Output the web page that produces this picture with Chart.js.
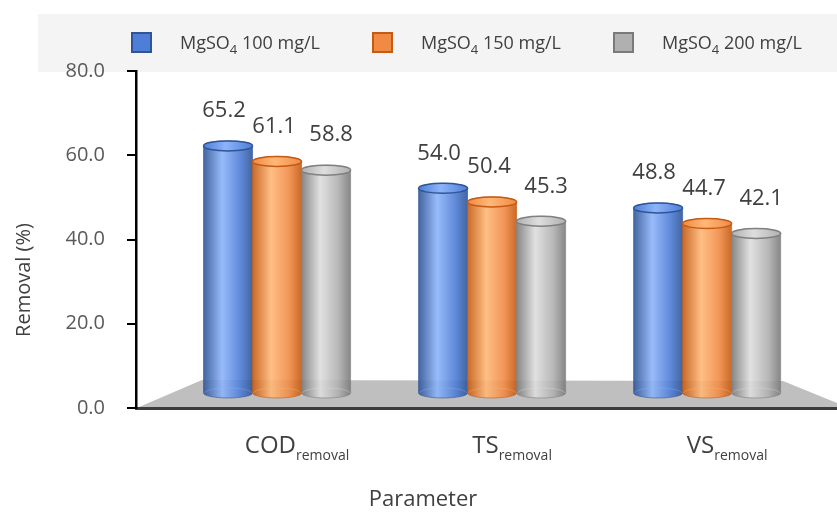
<!DOCTYPE html>
<html>
<head>
<meta charset="utf-8">
<script src="https://cdn.jsdelivr.net/npm/chart.js@4.4.1/dist/chart.umd.min.js"></script>
<style>
  html, body { margin: 0; padding: 0; background: #fff; }
  #wrap { width: 837px; height: 516px; position: relative; }
</style>
</head>
<body>
<div id="wrap"><canvas id="chart" width="837" height="516"></canvas></div>
<script>
const categories  = ["COD", "TS", "VS"];
const categorySub = "removal";
const seriesNames = ["100 mg/L", "150 mg/L", "200 mg/L"];
const mg100 = [65.2, 54.0, 48.8];
const mg150 = [61.1, 50.4, 44.7];
const mg200 = [58.8, 45.3, 42.1];
const yTicks = [0, 20, 40, 60, 80];

const FONT = "'Open Sans', 'Noto Sans', sans-serif";
const TEXT = "#404040";

const palette = [
  { dark: "#2f5597", light: "#8db4fa", mid: "#4f7ed6", line: "#2f5597" },
  { dark: "#c55a11", light: "#ffb878", mid: "#f08a45", line: "#c55a11" },
  { dark: "#7a7a7a", light: "#dedede", mid: "#b0b0b0", line: "#808080" }
];
const labelShift = [-4, -3, 5];

function byId(id) { return document.getElementById(id); }

function toPoints(values) {
  return values.map((v, i) => ({ x: i, y: v }));
}

function drawCylinder(ctx, x, top, base, w, col) {
  const l = x - w / 2, r = x + w / 2, rx = w / 2, ry = 5;
  const g = ctx.createLinearGradient(l, 0, r, 0);
  g.addColorStop(0, col.dark);
  g.addColorStop(0.38, col.light);
  g.addColorStop(0.75, col.mid);
  g.addColorStop(1, col.dark);
  ctx.save();
  ctx.globalAlpha = 0.9;
  ctx.beginPath();
  ctx.moveTo(l, top);
  ctx.lineTo(l, base);
  ctx.ellipse(x, base, rx, ry, 0, Math.PI, 0, true);
  ctx.lineTo(r, top);
  ctx.ellipse(x, top, rx, ry, 0, 0, Math.PI, true);
  ctx.closePath();
  ctx.fillStyle = g;
  ctx.fill();
  ctx.globalAlpha = 0.6;
  ctx.lineWidth = 1;
  ctx.strokeStyle = col.line;
  ctx.stroke();
  // faint back edge of the bottom
  ctx.globalAlpha = 0.35;
  ctx.strokeStyle = col.light;
  ctx.beginPath();
  ctx.ellipse(x, base, rx - 1, ry, 0, 0, Math.PI, true);
  ctx.stroke();
  // top cap
  ctx.globalAlpha = 1;
  const g2 = ctx.createLinearGradient(l, 0, r, 0);
  g2.addColorStop(0, col.mid);
  g2.addColorStop(0.45, col.light);
  g2.addColorStop(1, col.mid);
  ctx.beginPath();
  ctx.ellipse(x, top, rx, ry, 0, 0, Math.PI * 2);
  ctx.fillStyle = g2;
  ctx.fill();
  ctx.lineWidth = 1.5;
  ctx.strokeStyle = col.line;
  ctx.stroke();
  ctx.restore();
}

// text with a lowered, smaller second part
function drawSubText(ctx, x, y, main, sub, after, size, subSize, align) {
  ctx.save();
  ctx.textBaseline = "alphabetic";
  ctx.fillStyle = TEXT;
  ctx.font = `${size}px ${FONT}`;
  const wMain = ctx.measureText(main).width;
  const wAfter = after ? ctx.measureText(after).width : 0;
  ctx.font = `${subSize}px ${FONT}`;
  const wSub = ctx.measureText(sub).width;
  const total = wMain + wSub + wAfter;
  let cx = align === "center" ? x - total / 2 : x;
  ctx.textAlign = "left";
  ctx.font = `${size}px ${FONT}`;
  ctx.fillText(main, cx, y);
  cx += wMain;
  ctx.font = `${subSize}px ${FONT}`;
  ctx.fillText(sub, cx, y + size * 0.28);
  cx += wSub;
  if (after) {
    ctx.font = `${size}px ${FONT}`;
    ctx.fillText(after, cx, y);
  }
  ctx.restore();
}

const cylinderPlugin = {
  id: "cylinders",
  beforeDraw(chart) {
    const { ctx } = chart;
    // legend band
    ctx.save();
    ctx.fillStyle = "#f4f4f4";
    ctx.fillRect(38, 14, 799, 58);
    ctx.restore();
  },
  beforeDatasetsDraw(chart) {
    const { ctx, chartArea: ca } = chart;
    // grey floor of the 3D plot
    ctx.save();
    ctx.fillStyle = "#bfbfbf";
    ctx.beginPath();
    ctx.moveTo(ca.left + 3, ca.bottom - 1);
    ctx.lineTo(ca.left + 66, ca.bottom - 28);
    ctx.lineTo(ca.right - 54, ca.bottom - 27);
    ctx.lineTo(ca.right + 10, ca.bottom - 1);
    ctx.closePath();
    ctx.fill();
    ctx.restore();
  },
  afterDatasetsDraw(chart) {
    const { ctx } = chart;
    chart.data.datasets.forEach((ds, di) => {
      const meta = chart.getDatasetMeta(di);
      meta.data.forEach(el => {
        const { x, y, base, width } = el.getProps(["x", "y", "base", "width"], true);
        drawCylinder(ctx, x, y, base, width, palette[di]);
      });
    });
    ctx.save();
    ctx.font = `22px ${FONT}`;
    ctx.fillStyle = TEXT;
    ctx.textAlign = "center";
    ctx.textBaseline = "middle";
    chart.data.datasets.forEach((ds, di) => {
      const meta = chart.getDatasetMeta(di);
      meta.data.forEach((el, i) => {
        const { x, y } = el.getProps(["x", "y"], true);
        ctx.fillText(ds.data[i].y.toFixed(1), x + labelShift[di], y - 35);
      });
    });
    ctx.restore();
  },
  afterDraw(chart) {
    const { ctx, scales } = chart;
    ctx.save();
    seriesNames.forEach((name, i) => {
      const lx = 131 + i * 241;
      ctx.fillStyle = palette[i].mid;
      ctx.fillRect(lx, 32, 21, 21);
      ctx.lineWidth = 2;
      ctx.strokeStyle = palette[i].dark;
      ctx.strokeRect(lx + 1, 33, 19, 19);
      drawSubText(ctx, lx + 49, 49, "MgSO", "4", " " + name, 18, 13, "left");
    });
    ctx.restore();

    // category labels with subscript
    categories.forEach((c, i) => {
      drawSubText(ctx, scales.x.getPixelForValue(i) + 20, 453, c, categorySub, "", 24, 14, "center");
    });

    ctx.save();
    ctx.fillStyle = TEXT;
    ctx.font = `22px ${FONT}`;
    ctx.textAlign = "center";
    ctx.textBaseline = "middle";
    ctx.fillText("Parameter", 423, 500);
    ctx.translate(24, 280);
    ctx.rotate(-Math.PI / 2);
    ctx.font = `20px ${FONT}`;
    ctx.fillText("Removal (%)", 0, 0);
    ctx.restore();
  }
};

const datasets = [mg100, mg150, mg200].map((vals, i) => ({
  label: "MgSO4 " + seriesNames[i],
  data: toPoints(vals),
  yAxisID: "yb",
  backgroundColor: "rgba(0,0,0,0)",
  borderWidth: 0,
  categoryPercentage: 0.684,
  barPercentage: 1
}));

new Chart(byId("chart").getContext("2d"), {
  type: "bar",
  data: { datasets },
  options: {
    responsive: false,
    animation: false,
    layout: { padding: { top: 71, right: 0, left: 0, bottom: 0 } },
    plugins: { legend: { display: false }, tooltip: { enabled: false } },
    scales: {
      x: {
        type: "linear",
        offset: false,
        min: -0.656,
        max: 2.604,
        afterBuildTicks: s => { s.ticks = categories.map((c, i) => ({ value: i })); },
        ticks: { display: false },
        grid: { display: false, drawTicks: false },
        border: { display: true, color: "#3c3c3c", width: 3 },
        afterFit: s => { s.height = 108; }
      },
      y: {
        position: "left",
        min: 0,
        max: 80,
        afterBuildTicks: s => { s.ticks = yTicks.map(v => ({ value: v })); },
        ticks: {
          padding: 22,
          color: "#595959",
          font: { family: FONT, size: 20 },
          callback: v => Number(v).toFixed(1)
        },
        grid: { drawOnChartArea: false, tickLength: 9, color: "#000", lineWidth: 2 },
        border: { display: true, color: "#000", width: 2.5 },
        afterFit: s => { s.width = 136; }
      },
      yb: {
        display: false,
        min: -3.96,
        max: 84.96
      }
    }
  },
  plugins: [cylinderPlugin]
});
</script>
</body>
</html>
